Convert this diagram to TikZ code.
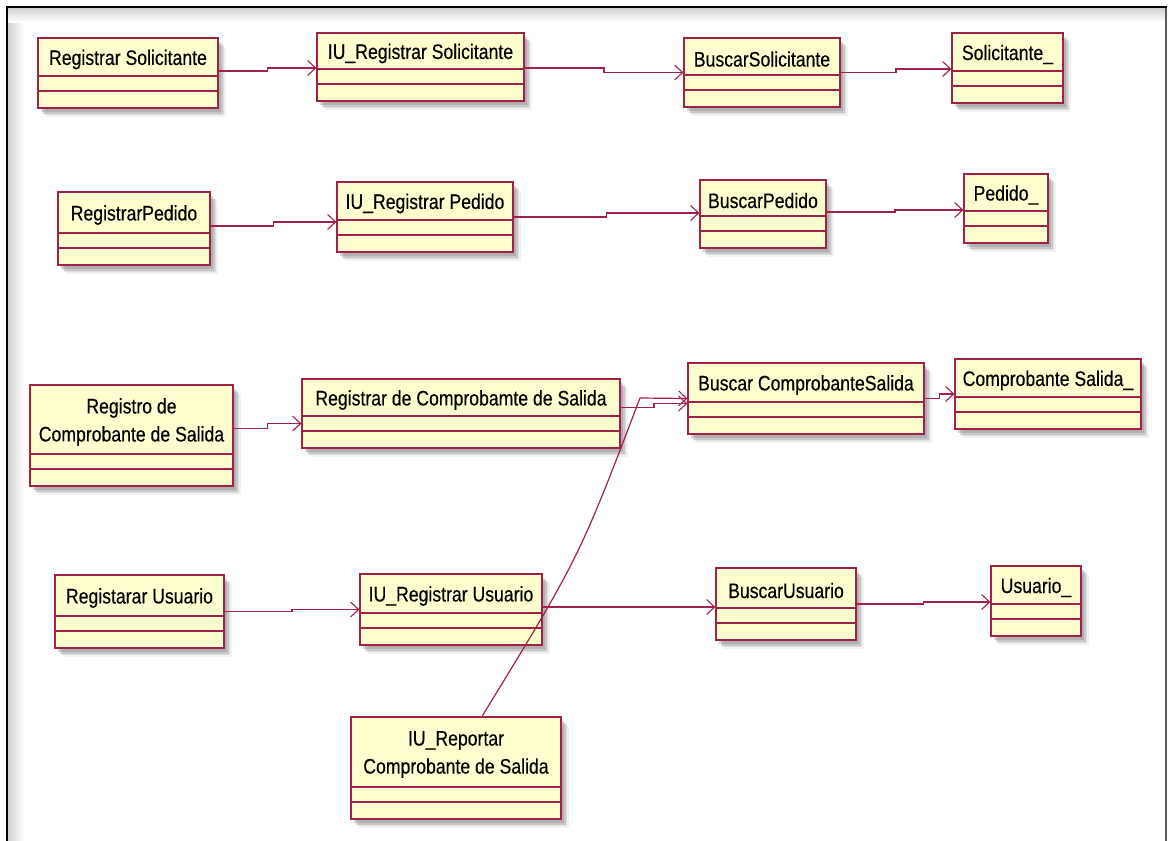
\documentclass[tikz,border=0pt]{standalone}
\usepackage{fontspec}
\setmainfont{Liberation Sans}[FakeStretch=0.84, FakeBold=0.35]
\usetikzlibrary{arrows.meta,calc,fit,shadows}

\definecolor{umlred}{RGB}{163,32,72}
\definecolor{umlfill}{RGB}{255,254,206}

\tikzset{
  cls/.style={draw=umlred, fill=umlfill, line width=1.2pt, inner sep=0pt,
    drop shadow={shadow xshift=8pt, shadow yshift=-9pt, opacity=0.10},
    drop shadow={shadow xshift=6pt, shadow yshift=-7pt, opacity=0.16},
    drop shadow={shadow xshift=4.5pt, shadow yshift=-5.5pt, opacity=0.24},
    drop shadow={shadow xshift=3pt, shadow yshift=-4pt, opacity=0.32},
    path picture={
      \draw[umlred, line width=1.2pt]
        ([yshift=17pt]path picture bounding box.south west) --
        ([yshift=17pt]path picture bounding box.south east);
      \draw[umlred, line width=1.2pt]
        ([yshift=32pt]path picture bounding box.south west) --
        ([yshift=32pt]path picture bounding box.south east);
    }},
  clsname/.style={font=\fontsize{21}{28}\selectfont, text=black,
    inner sep=0pt, align=center, anchor=center},
  assoc/.style={draw=umlred, line width=1.2pt,
    -{Straight Barb[length=8pt, width=15pt, line width=1.1pt]}},
}

% class box: name, left, top, right, bottom, title
\newcommand\umlclass[6]{%
  \node[cls, fit={(#2,#3) (#4,#5)}] (#1) {};
  \pgfmathsetmacro\clsx{(#2+#4)/2}%
  \pgfmathsetmacro\clsy{(#3+#5-32)/2+2.5}%
  \node[clsname] (#1-t) at (\clsx,\clsy) {#6};
}
% association with a small jog half way
\newcommand\assocline[2]{%
  \draw[assoc] (#1) -| ($(#1)!.5!(#2)$) |- (#2);
}

\begin{document}
\begin{tikzpicture}[x=1pt, y=-1pt]
\useasboundingbox (0,0) rectangle (1168,841);
\fill[white] (0,0) rectangle (1168,841);

% frame with its soft inner shade
\shade[left color=black!18, right color=white] (8,8) rectangle (24,841);
\shade[top color=black!18, bottom color=white] (8,8) rectangle (1165,22);
\draw[black!65, line width=1.5pt] (1166,7) -- (1166,845);
\draw[black, line width=2.4pt] (7,845) -- (7,7) -- (1167,7);

% row 1
\umlclass{rs}{38}{38}{218}{108}{Registrar Solicitante}
\umlclass{iurs}{317}{33}{524}{101}{IU\_Registrar Solicitante}
\umlclass{bs}{684}{38}{840}{107}{BuscarSolicitante}
\umlclass{sol}{952}{33}{1063}{103}{Solicitante\_}
% row 2
\umlclass{rp}{58}{192}{210}{265}{RegistrarPedido}
\umlclass{iurp}{337}{182}{513}{252}{IU\_Registrar Pedido}
\umlclass{bp}{700}{180}{826}{248}{BuscarPedido}
\umlclass{ped}{964}{174}{1048}{243}{Pedido\_}
% row 3
\umlclass{rcs}{30}{385}{233}{486}{Registro de\\Comprobante de Salida}
\umlclass{rdcs}{302}{379}{620}{448}{Registrar de Comprobamte de Salida}
\umlclass{bcs}{688}{363}{924}{434}{Buscar ComprobanteSalida}
\umlclass{cs}{955}{359}{1141}{429}{Comprobante Salida\_}
% row 4
\umlclass{ru}{55}{575}{224}{648}{Registarar Usuario}
\umlclass{iuru}{360}{574}{542}{645}{IU\_Registrar Usuario}
\umlclass{bu}{716}{568}{856}{640}{BuscarUsuario}
\umlclass{usu}{991}{566}{1081}{636}{Usuario\_}
% report screen
\umlclass{iurcs}{351}{717}{561}{819}{IU\_Reportar\\Comprobante de Salida}

% associations
\assocline{[yshift=2pt]rs.east}{[yshift=-1pt]iurs.west}
\assocline{[yshift=-1pt]iurs.east}{bs.west}
\assocline{bs.east}{[yshift=-1pt]sol.west}
\assocline{[yshift=2.5pt]rp.east}{[yshift=-5pt]iurp.west}
\assocline{iurp.east}{[yshift=1pt]bp.west}
\assocline{[yshift=2pt]bp.east}{[yshift=-1.5pt]ped.west}
\assocline{[yshift=7pt]rcs.east}{[yshift=-10pt]rdcs.west}
\assocline{[yshift=6pt]rdcs.east}{[yshift=-5pt]bcs.west}
\assocline{bcs.east}{cs.west}
\assocline{ru.east}{iuru.west}
\assocline{[yshift=2.5pt]iuru.east}{[yshift=-3pt]bu.west}
\assocline{bu.east}{[yshift=-1pt]usu.west}

\coordinate (turn) at (640,398);
\draw[assoc] ([xshift=26pt]iurcs.north) .. controls (579,558) .. (turn) -- (bcs.west);
\end{tikzpicture}
\end{document}
